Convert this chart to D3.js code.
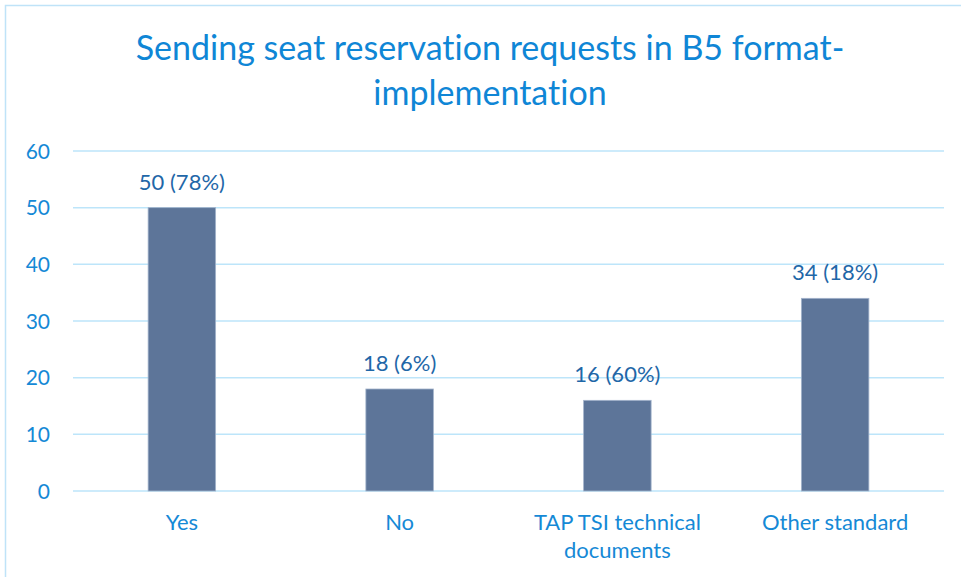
<!DOCTYPE html>
<html>
<head>
<meta charset="utf-8">
<script src="https://cdn.jsdelivr.net/npm/d3@7"></script>
<style>
  body { margin: 0; background: #fff; }
  svg text { font-family: Lato, "Open Sans", sans-serif; font-variant-ligatures: none; }
</style>
</head>
<body>
<svg id="chart" width="961" height="577"></svg>
<script>
let categories = ["Yes", "No", "TAP TSI technical documents", "Other standard"];
let values = [50, 18, 16, 34];
let percents = [78, 6, 60, 18];
let yTicks = [0, 10, 20, 30, 40, 50, 60];
let titleLines = ["Sending seat reservation requests in B5 format-", "implementation"];

let svg = d3.select("#chart");

let margin = { left: 73, right: 944, top: 151, bottom: 491 };

// outer chart border
svg.append("rect")
  .attr("x", 5.5).attr("y", 5.5)
  .attr("width", 990).attr("height", 600)
  .attr("fill", "none")
  .attr("stroke", "#bfe3f8")
  .attr("stroke-width", 1.5);

// title
svg.append("text")
  .attr("text-anchor", "middle")
  .attr("fill", "#0f86d6")
  .style("font-size", "34px")
  .selectAll("tspan")
  .data(titleLines)
  .enter()
  .append("tspan")
  .attr("x", 490)
  .attr("y", (d, i) => 60 + i * 45)
  .text((d) => d);

let x = d3.scaleBand()
  .domain(categories)
  .range([margin.left, margin.right])
  .padding(0);

let y = d3.scaleLinear()
  .domain([0, 60])
  .range([margin.bottom, margin.top]);

// gridlines
svg.append("g")
  .selectAll("line")
  .data(yTicks)
  .enter()
  .append("line")
  .attr("x1", margin.left)
  .attr("x2", margin.right)
  .attr("y1", (d) => y(d))
  .attr("y2", (d) => y(d))
  .attr("stroke", "#bde5fa")
  .attr("stroke-width", 1.5);

// y tick labels
svg.append("g")
  .selectAll("text")
  .data(yTicks)
  .enter()
  .append("text")
  .attr("x", 50)
  .attr("y", (d) => y(d))
  .attr("dy", "0.36em")
  .attr("text-anchor", "end")
  .attr("fill", "#1589d6")
  .style("font-size", "21px")
  .text((d) => d);

let barWidth = x.bandwidth() * 0.31;

// bars
svg.append("g")
  .selectAll("rect")
  .data(values)
  .enter()
  .append("rect")
  .attr("x", (d, i) => x(categories[i]) + x.bandwidth() / 2 - barWidth / 2)
  .attr("y", (d) => y(d))
  .attr("width", barWidth)
  .attr("height", (d) => y(0) - y(d))
  .attr("fill", "#5d7599")
  .attr("stroke", "#a3b3cb")
  .attr("stroke-width", 0.8);

// value labels
svg.append("g")
  .selectAll("text")
  .data(values)
  .enter()
  .append("text")
  .attr("x", (d, i) => x(categories[i]) + x.bandwidth() / 2)
  .attr("y", (d) => y(d) - 18)
  .attr("text-anchor", "middle")
  .attr("fill", "#1f67a8")
  .style("font-size", "22px")
  .text((d, i) => d + " (" + percents[i] + "%)");

// category labels, wrapped like the original
let wrapLabel = (label) => {
  if (label.length > 20) {
    let words = label.split(" ");
    return [words.slice(0, 3).join(" "), words.slice(3).join(" ")];
  }
  return [label];
};

svg.append("g")
  .selectAll("text")
  .data(categories)
  .enter()
  .append("text")
  .attr("text-anchor", "middle")
  .attr("fill", "#1589d6")
  .style("font-size", "22px")
  .each(function (d) {
    let cx = x(d) + x.bandwidth() / 2;
    d3.select(this)
      .selectAll("tspan")
      .data(wrapLabel(d))
      .enter()
      .append("tspan")
      .attr("x", cx)
      .attr("y", (t, i) => 530 + i * 28)
      .text((t) => t);
  });
</script>
</body>
</html>
